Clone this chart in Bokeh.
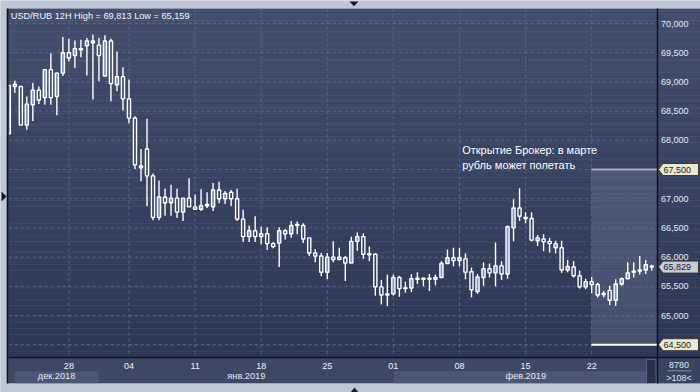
import numpy as np
from bokeh.plotting import figure
from bokeh.models import Range1d, ColumnDataSource
from bokeh.core.properties import value
from bokeh.embed import file_html
from bokeh.resources import INLINE

# ---------------- data ----------------
title_text = "USD/RUB 12H High = 69,813 Low = 65,159"

open_ = [68.11, 68.92, 68.92, 68.26, 68.61, 68.86, 68.73, 69.21, 68.75, 69.15,
         69.50, 69.45, 69.57, 69.62, 69.70, 69.63, 69.10, 69.70, 68.95, 69.09,
         68.71, 68.38, 67.56, 67.85, 67.39, 66.68, 67.03, 66.93, 67.01, 66.77,
         67.01, 66.86, 66.82, 66.88, 66.86, 67.15, 67.00, 67.11, 67.00, 66.65,
         66.35, 66.45, 66.35, 66.40, 66.23, 66.24, 66.45, 66.40, 66.54, 66.54,
         66.33, 66.07, 66.02, 65.74, 66.00, 65.96, 65.99, 65.90, 66.27, 66.35,
         66.05, 66.05, 65.49, 65.36, 65.37, 65.65, 65.46, 65.47, 65.63, 65.62,
         65.63, 65.62, 65.65, 65.89, 65.99, 65.94, 65.97, 65.75, 65.41, 65.65,
         65.80, 65.73, 65.85, 65.71, 66.50, 66.84, 66.68, 66.66, 66.28, 66.31,
         66.27, 66.16, 66.16, 65.78, 65.83, 65.68, 65.49, 65.58, 65.53, 65.36,
         65.43, 65.26, 65.54, 65.63, 65.74, 65.76, 65.78, 65.84]
high = [68.94, 69.02, 68.93, 68.75, 68.98, 68.92, 69.21, 69.49, 69.16, 69.77,
        69.74, 69.71, 69.72, 69.75, 69.813, 69.75, 69.80, 69.74, 69.52, 69.25,
        69.04, 68.41, 67.85, 68.37, 67.43, 67.31, 67.17, 67.24, 67.17, 67.01,
        67.35, 67.07, 67.16, 67.11, 67.27, 67.29, 67.13, 67.15, 67.17, 66.81,
        66.54, 66.70, 66.52, 66.51, 66.26, 66.51, 66.48, 66.62, 66.61, 66.58,
        66.33, 66.14, 66.07, 66.07, 66.27, 66.16, 66.02, 66.35, 66.42, 66.41,
        66.18, 66.06, 65.61, 65.70, 65.70, 65.68, 65.58, 65.71, 65.74, 65.65,
        65.71, 65.70, 65.93, 66.13, 66.16, 66.16, 66.06, 65.82, 65.71, 65.91,
        65.89, 66.25, 65.93, 66.54, 66.99, 67.18, 66.77, 66.77, 66.38, 66.39,
        66.33, 66.28, 66.28, 65.95, 65.93, 65.77, 65.63, 65.66, 65.56, 65.42,
        65.51, 65.62, 65.65, 65.91, 65.91, 66.02, 65.95, 65.87]
low = [68.11, 68.81, 68.26, 68.18, 68.33, 68.62, 68.61, 68.61, 68.43, 69.10,
       69.35, 69.24, 69.42, 69.11, 68.70, 69.01, 69.10, 68.67, 68.84, 68.51,
       68.29, 67.51, 67.30, 66.87, 66.63, 66.63, 66.71, 66.71, 66.67, 66.62,
       66.86, 66.81, 66.79, 66.84, 66.79, 66.92, 66.91, 66.87, 66.62, 66.26,
       66.26, 66.26, 66.22, 66.12, 66.15, 65.83, 66.30, 66.33, 66.39, 66.24,
       66.02, 65.91, 65.67, 65.62, 65.91, 65.95, 65.59, 65.90, 66.11, 65.97,
       65.93, 65.34, 65.19, 65.159, 65.34, 65.32, 65.39, 65.40, 65.54, 65.50,
       65.42, 65.52, 65.65, 65.89, 65.84, 65.84, 65.62, 65.31, 65.37, 65.51,
       65.65, 65.50, 65.61, 65.63, 66.27, 66.62, 66.58, 66.27, 66.19, 66.10,
       66.08, 66.06, 65.73, 65.74, 65.65, 65.46, 65.45, 65.38, 65.31, 65.31,
       65.18, 65.165, 65.51, 65.63, 65.65, 65.70, 65.71, 65.77]
close = [68.94, 68.96, 68.26, 68.62, 68.86, 68.69, 69.21, 68.73, 69.15, 69.50,
         69.41, 69.57, 69.55, 69.70, 69.67, 69.45, 69.70, 68.97, 69.09, 68.71,
         68.38, 67.58, 67.53, 67.39, 66.68, 67.03, 66.93, 67.01, 66.77, 67.01,
         66.86, 66.82, 66.88, 66.90, 67.15, 67.00, 67.09, 67.00, 66.65, 66.35,
         66.45, 66.35, 66.40, 66.23, 66.18, 66.45, 66.40, 66.54, 66.55, 66.31,
         66.07, 66.02, 65.74, 66.00, 65.96, 66.00, 65.90, 66.27, 66.35, 66.05,
         66.04, 65.49, 65.35, 65.35, 65.65, 65.46, 65.47, 65.63, 65.62, 65.63,
         65.62, 65.65, 65.89, 65.99, 65.94, 65.99, 65.74, 65.44, 65.66, 65.80,
         65.73, 65.85, 65.71, 66.52, 66.84, 66.70, 66.66, 66.29, 66.33, 66.26,
         66.23, 66.23, 65.78, 65.84, 65.68, 65.49, 65.58, 65.53, 65.35, 65.37,
         65.26, 65.54, 65.63, 65.73, 65.76, 65.78, 65.87, 65.829]

day_tick_idx = [10, 20, 31, 42, 53, 64, 75, 86, 97]
day_tick_labels = ["28", "04", "11", "18", "25", "01", "08", "15", "22"]
month_labels = ["дек.2018", "янв.2019", "фев.2019"]
month_start = [0.95, 14.95, 64.1]
month_end = [14.95, 64.1, 108.1]
month_highlight = [True, False, True]
price_ticks = [64.5, 65.0, 65.5, 66.0, 66.5, 67.0, 67.5, 68.0, 68.5, 69.0, 69.5, 70.0]
tag_values = [67.5, 65.829, 64.5]
tag_kinds = ["level", "last", "level"]
forecast_start = 97
forecast_low, forecast_high = 64.5, 67.5
annotation_lines = ["Открытие Брокер: в марте", "рубль может полетать"]
footer_lines = ["8780", ">108<"]

# ---------------- geometry helpers (layout only) ----------------
W, H = 700, 392
SX, X0 = 6.009, 8.29      # pixels per candle, pixel of candle 0
SY = 58.4                 # pixels per rouble
def ix(px):
    return (px - X0) / SX
def vy(py):
    return 70.0 - (py - 23.0) / SY

PL, PR, PT, PB = 8.3, 657.0, 8.0, 357.0   # price pane edges (px)
AXB = 383.0                               # bottom of the date pane

p = figure(width=W, height=H, x_range=Range1d(ix(0), ix(W)), y_range=Range1d(vy(H), vy(0)),
           toolbar_location=None, output_backend="svg",
           x_axis_location=None, y_axis_location=None, min_border=0)
p.grid.visible = False
p.outline_line_color = None
p.background_fill_color = "#bdc7d7"
p.border_fill_color = "#bdc7d7"

# gradient background of price pane + price axis pane
nb = 60
top_rgb = np.array([0x43, 0x4f, 0x6c])
bot_rgb = np.array([0x2c, 0x38, 0x55])
edges = np.linspace(PT, PB, nb + 1)
cols = []
for k in range(nb):
    t = k / (nb - 1)
    c = (top_rgb * (1 - t) + bot_rgb * t).astype(int)
    cols.append("#%02x%02x%02x" % tuple(c))
p.quad(left=ix(PL), right=ix(W), top=[vy(e) for e in edges[:-1]], bottom=[vy(e) for e in edges[1:]],
       fill_color=cols, line_color=cols, line_width=0.5)

# date pane
p.quad(left=ix(PL), right=ix(W), top=vy(PB), bottom=vy(AXB), fill_color="#3d4964", line_color=None)
for lab, s, e, hl in zip(month_labels, month_start, month_end, month_highlight):
    if hl:
        p.quad(left=s, right=min(e, ix(PR)), top=vy(370.7), bottom=vy(AXB),
               fill_color="#4a5673", line_color=None)
# scrollbar stub
p.quad(left=ix(646), right=ix(655.5), top=vy(359), bottom=vy(AXB), fill_color="#27314a",
       line_color="#56627e", line_width=1)
# footer box of the price axis
p.quad(left=ix(PR), right=ix(W), top=vy(PB), bottom=vy(AXB), fill_color="#38445f", line_color=None)

# forecast shading
p.quad(left=forecast_start - 0.05, right=ix(PR), top=forecast_high, bottom=forecast_low,
       fill_color="#8a96b0", fill_alpha=0.25, line_color=None)

# grid
gx0, gx1 = ix(PL), ix(PR)
p.segment(x0=gx0, x1=gx1, y0=price_ticks, y1=price_ticks, line_color="#58668a",
          line_dash="3 3", line_width=1)
p.segment(x0=day_tick_idx, x1=day_tick_idx, y0=vy(PT), y1=vy(PB), line_color="#58668a",
          line_dash="3 3", line_width=1)

# forecast level lines
p.segment(x0=forecast_start - 0.05, x1=ix(PR), y0=forecast_high, y1=forecast_high,
          line_color="#aab0ba", line_width=2)
p.segment(x0=forecast_start - 0.05, x1=ix(PR), y0=forecast_low, y1=forecast_low,
          line_color="#ffffff", line_width=2)

# candles
o = np.array(open_); c = np.array(close); hh = np.array(high); ll = np.array(low)
idx = np.arange(len(o))
btop = np.maximum(o, c)
bbot = np.minimum(o, c)
btop_draw = np.maximum(btop, bbot + 1.0 / SY)
up = c > o
src = ColumnDataSource(dict(x=idx, top=btop_draw, bot=bbot, h=hh, l=ll,
                            fill=np.where(up, "#7c98c7", "#2f3b58"),
                            alpha=np.where(up, 1.0, 0.0)))
p.segment(x0="x", x1="x", y0="h", y1="top", source=src, line_color="white", line_width=1.4)
p.segment(x0="x", x1="x", y0="bot", y1="l", source=src, line_color="white", line_width=1.4)
p.vbar(x="x", width=0.52, top="top", bottom="bot", source=src, fill_color="fill",
       fill_alpha="alpha", line_color="white", line_width=1.4)

# frame borders
p.quad(left=ix(0), right=ix(6.2), top=vy(0), bottom=vy(H), fill_color="#bdc7d7", line_color=None)
p.quad(left=ix(0), right=ix(W), top=vy(0), bottom=vy(PT), fill_color="#bdc7d7", line_color=None)
p.quad(left=ix(0), right=ix(W), top=vy(AXB), bottom=vy(H), fill_color="#bdc7d7", line_color=None)
p.segment(x0=ix(7.2), x1=ix(7.2), y0=vy(PT), y1=vy(AXB), line_color="#0d1220", line_width=2)
p.segment(x0=ix(PR), x1=ix(PR), y0=vy(PT), y1=vy(AXB), line_color="#0d1220", line_width=1.5)
p.segment(x0=ix(PL), x1=ix(W), y0=vy(PB), y1=vy(PB), line_color="#0d1220", line_width=1.5)

# nav triangles
p.patches(xs=[[ix(349), ix(358), ix(353.5)], [ix(350), ix(358), ix(354)], [ix(1), ix(1), ix(6)]],
          ys=[[vy(1), vy(1), vy(5.8)], [vy(392), vy(392), vy(387)], [vy(191), vy(201), vy(196)]],
          fill_color="#111a2a", line_color=None)

small = value("9px")
font = value("Liberation Sans")

# title
p.text(x=[ix(10.3)], y=[vy(15.0)], text=[title_text], text_font=font, text_font_size=value("9.2px"),
       text_color="#f2f5fa", text_baseline="middle", text_align="left")

# price axis labels
lab_v = [v for v in price_ticks if v >= 65.0 and v not in tag_values]
lab_t = [("%.3f" % v).replace(".", ",") for v in lab_v]
p.text(x=ix(660.5), y=lab_v, text=lab_t, text_font=font,
       text_font_size=small, text_color="#e4eaf4", text_baseline="middle", text_align="left")

# date labels
p.text(x=day_tick_idx, y=vy(365.7), text=day_tick_labels, text_font=font, text_font_size=small,
       text_color="#eef2f8", text_baseline="middle", text_align="center")
mx = [(s + min(e, ix(PR))) / 2 for s, e in zip(month_start, month_end)]
p.text(x=mx, y=vy(375.8), text=month_labels, text_font=font, text_font_size=value("9.2px"),
       text_color="#e4eaf4", text_baseline="middle", text_align="center")

# footer of price axis
p.text(x=ix(678.5), y=[vy(364.0), vy(377.0)], text=footer_lines, text_font=font,
       text_font_size=small, text_color="#dfe6f2", text_baseline="middle", text_align="center")
p.segment(x0=ix(667), x1=ix(691), y0=vy(370.3), y1=vy(370.3), line_color="#8892a8", line_width=1)

# annotation
p.text(x=ix(461.7), y=[vy(149.5), vy(164.0)], text=annotation_lines, text_font=font,
       text_font_size=value("11px"), text_color="#ffffff", text_baseline="middle",
       text_align="left")

# price tags
hh_ = 6.0 / SY
txs, tys, fills = [], [], []
for v, kind in zip(tag_values, tag_kinds):
    txs.append([ix(658), ix(662.5), ix(698), ix(698), ix(662.5)])
    tys.append([v, v + hh_, v + hh_, v - hh_, v - hh_])
    fills.append("#ebe9cc" if kind == "level" else "#c6cad2")
p.patches(xs=txs, ys=tys, fill_color=fills, line_color="#3a3a3a", line_width=1)
p.text(x=ix(663), y=tag_values,
       text=[("%.3f" % v).replace(".", ",") for v in tag_values], text_font=font,
       text_font_size=small, text_color="#1a2232", text_baseline="middle", text_align="left")

open("out.html", "w").write(file_html(p, INLINE))
